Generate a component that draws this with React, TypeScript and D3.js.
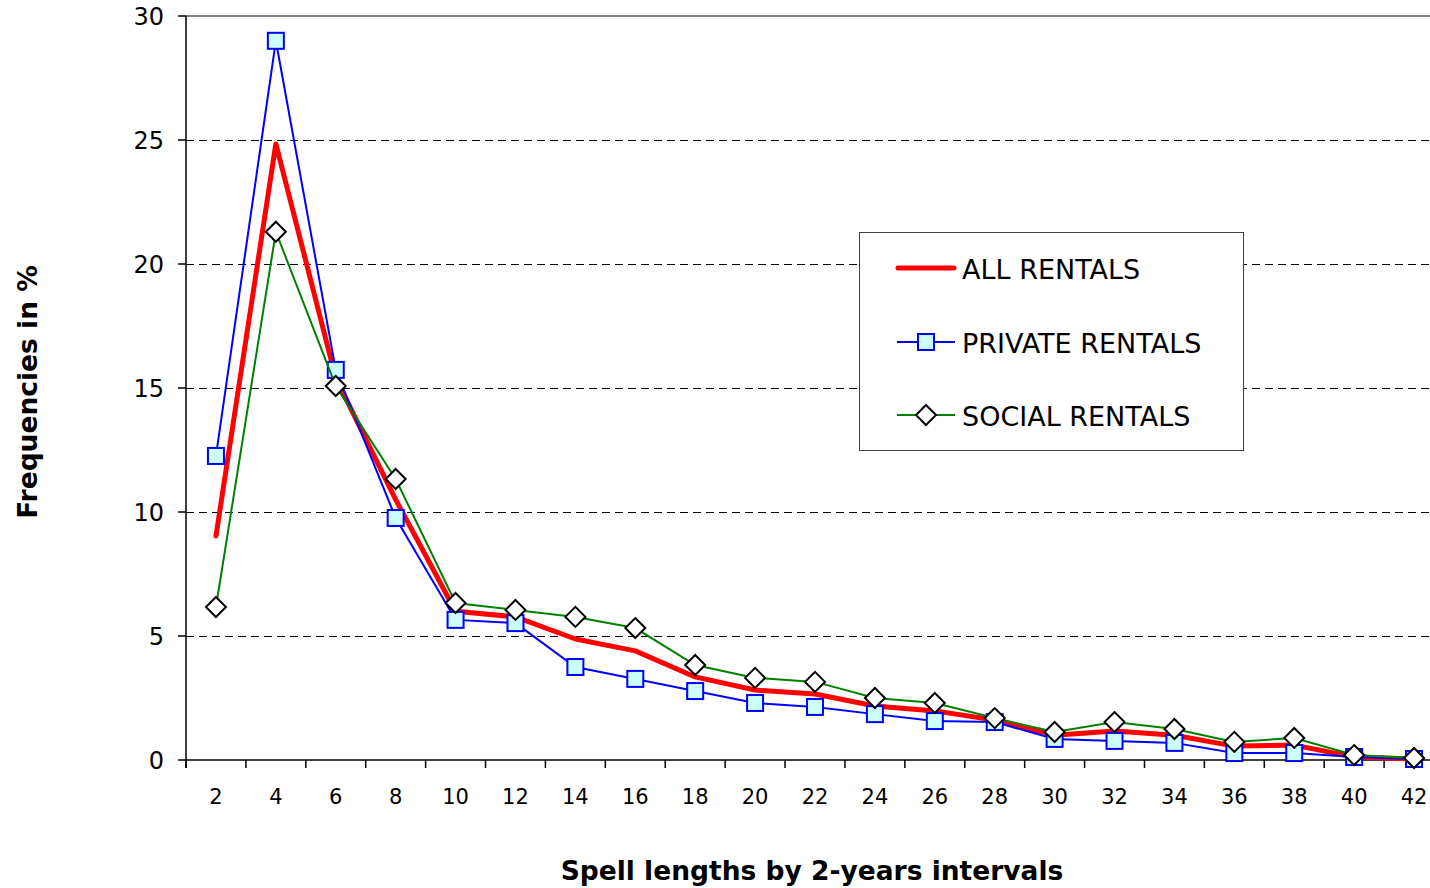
import React from "react";
import * as d3 from "d3";

const categories = ["2","4","6","8","10","12","14","16","18","20","22","24","26","28","30","32","34","36","38","40","42"];
const allRentals = [9.03, 24.84, 15.4, 10.5, 6.0, 5.77, 4.88, 4.4, 3.35, 2.82, 2.66, 2.18, 1.98, 1.61, 1.0, 1.17, 1.0, 0.56, 0.6, 0.12, 0.04];
const privateRentals = [12.26, 29.0, 15.73, 9.76, 5.65, 5.52, 3.75, 3.27, 2.78, 2.3, 2.14, 1.85, 1.57, 1.53, 0.85, 0.77, 0.69, 0.28, 0.28, 0.12, 0.04];
const socialRentals = [6.17, 21.3, 15.08, 11.33, 6.33, 6.05, 5.77, 5.32, 3.83, 3.31, 3.15, 2.5, 2.3, 1.69, 1.13, 1.53, 1.25, 0.73, 0.89, 0.2, 0.08];
const yTicks = [0, 5, 10, 15, 20, 25, 30];
const seriesNames = ["ALL RENTALS", "PRIVATE RENTALS", "SOCIAL RENTALS"];

const W = 1430, H = 888;
const left = 186, right = 1444, top = 16, bottom = 760;
const FONT = "'DejaVu Sans', Verdana, sans-serif";

export default function App() {
  const x = d3.scaleBand<string>().domain(categories).range([left, right]).padding(0);
  const y = d3.scaleLinear().domain([0, 30]).range([bottom, top]);
  const cx = (c: string) => (x(c) as number) + x.bandwidth() / 2;
  const line = d3.line<number>().x((_, i) => cx(categories[i])).y((v) => y(v));

  const sq = 16;
  const dm = 10;
  const diamond = (px: number, py: number) =>
    `M${px},${py - dm}L${px + dm},${py}L${px},${py + dm}L${px - dm},${py}Z`;

  const boundaries = categories.map((c) => x(c) as number).concat([right]);

  const legX = 859.5, legY = 232.5, legW = 384, legH = 218;
  const legRows = [268, 342, 415];

  return (
    <svg width={W} height={H} style={{ position: "absolute", left: 0, top: 0, background: "#fff" }}>
      <rect x={0} y={0} width={W} height={H} fill="#fff" />
      {/* gridlines */}
      {yTicks.filter((t) => t > 0 && t < 30).map((t) => (
        <line key={"g" + t} x1={left} x2={W} y1={y(t) + 0.5} y2={y(t) + 0.5} stroke="#000" strokeWidth={1} strokeDasharray="8,5" />
      ))}
      {/* top border */}
      <line x1={left} x2={W} y1={y(30)} y2={y(30)} stroke="#808080" strokeWidth={2} />
      {/* y axis */}
      <line x1={left} x2={left} y1={top} y2={bottom + 8} stroke="#000" strokeWidth={1.5} />
      {yTicks.map((t) => (
        <g key={"yt" + t}>
          <line x1={left - 8} x2={left} y1={y(t)} y2={y(t)} stroke="#000" strokeWidth={1.5} />
          <text x={164} y={y(t)} dy="0.36em" textAnchor="end" fontFamily={FONT} fontSize={24} fill="#000">{t}</text>
        </g>
      ))}
      {/* x axis */}
      <line x1={left} x2={W} y1={bottom} y2={bottom} stroke="#000" strokeWidth={1.5} />
      {boundaries.map((b, i) => (
        <line key={"xt" + i} x1={b} x2={b} y1={bottom} y2={bottom + 8} stroke="#000" strokeWidth={1.5} />
      ))}
      {categories.map((c) => (
        <text key={"xl" + c} x={cx(c)} y={796} dy="0.36em" textAnchor="middle" fontFamily={FONT} fontSize={21} fill="#000">{c}</text>
      ))}
      {/* axis titles */}
      <text x={812} y={880} textAnchor="middle" fontFamily={FONT} fontSize={26.5} fontWeight="bold" fill="#000">Spell lengths by 2-years intervals</text>
      <text transform={`translate(37,392) rotate(-90)`} textAnchor="middle" fontFamily={FONT} fontSize={26.5} fontWeight="bold" fill="#000">Frequencies in %</text>

      {/* series */}
      <path d={line(allRentals) || ""} fill="none" stroke="#ff0000" strokeWidth={5} strokeLinejoin="round" strokeLinecap="round" />
      <path d={line(privateRentals) || ""} fill="none" stroke="#0000ff" strokeWidth={2} />
      {privateRentals.map((v, i) => (
        <rect key={"p" + i} x={cx(categories[i]) - sq / 2} y={y(v) - sq / 2} width={sq} height={sq} fill="#ccffff" stroke="#0000ff" strokeWidth={2} />
      ))}
      <path d={line(socialRentals) || ""} fill="none" stroke="#008000" strokeWidth={2} />
      {socialRentals.map((v, i) => (
        <path key={"s" + i} d={diamond(cx(categories[i]), y(v))} fill="#fff" stroke="#000" strokeWidth={2} />
      ))}

      {/* legend */}
      <rect x={legX} y={legY} width={legW} height={legH} fill="#fff" stroke="#404040" strokeWidth={1} />
      <line x1={898} x2={954} y1={legRows[0]} y2={legRows[0]} stroke="#ff0000" strokeWidth={5} strokeLinecap="round" />
      <line x1={897} x2={955} y1={legRows[1]} y2={legRows[1]} stroke="#0000ff" strokeWidth={2} />
      <rect x={926 - sq / 2} y={legRows[1] - sq / 2} width={sq} height={sq} fill="#ccffff" stroke="#0000ff" strokeWidth={2} />
      <line x1={897} x2={955} y1={legRows[2]} y2={legRows[2]} stroke="#008000" strokeWidth={2} />
      <path d={diamond(926, legRows[2])} fill="#fff" stroke="#000" strokeWidth={2} />
      {seriesNames.map((n, i) => (
        <text key={n} x={962} y={legRows[i] + 1} dy="0.36em" fontFamily={FONT} fontSize={27} fill="#000">{n}</text>
      ))}
    </svg>
  );
}
